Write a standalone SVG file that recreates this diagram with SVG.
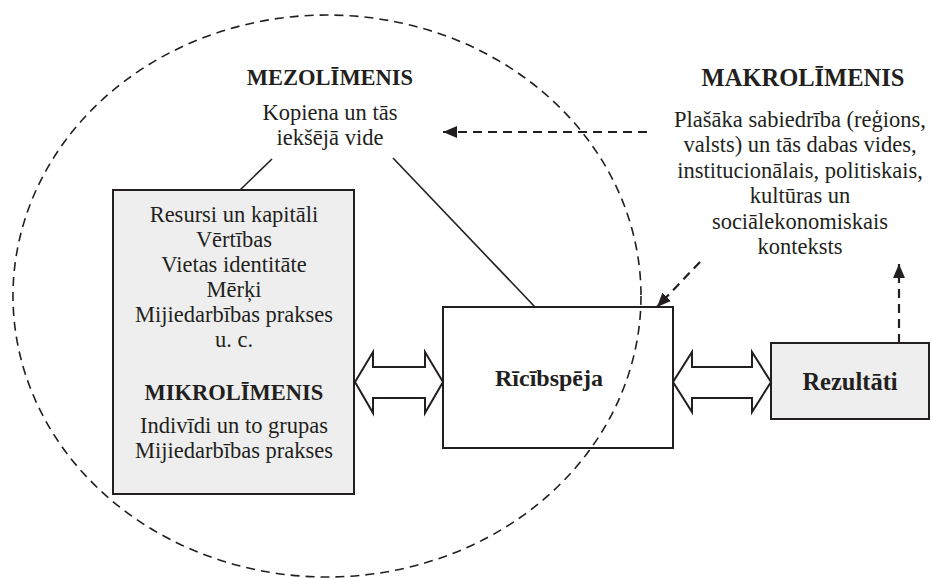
<svg xmlns="http://www.w3.org/2000/svg" width="932" height="579" viewBox="0 0 932 579">
<style>
text{font-family:"Liberation Serif","Times New Roman",serif;fill:#231f20;text-anchor:middle}
.b{font-weight:bold}
.t{font-size:22.5px}
.h{font-size:22.5px;font-weight:bold}
.box{stroke:#231f20;stroke-width:2}
.dbl{fill:#fff;stroke:#231f20;stroke-width:2;stroke-linejoin:miter}
.dash{fill:none;stroke:#231f20;stroke-width:2.2;stroke-dasharray:9 6}
.line{stroke:#231f20;stroke-width:1.6;fill:none}
</style>
<defs>
<marker id="ah" viewBox="0 0 14 12" refX="14" refY="6" markerWidth="14" markerHeight="12" markerUnits="userSpaceOnUse" orient="auto">
<path d="M0,0 L14,6 L0,12 z" fill="#231f20"/>
</marker>
</defs>
<g id="mikro">
<rect class="box" x="113" y="190" width="241" height="304" fill="#eeeeee" stroke-width="2.5"/>
<text class="t" x="234" y="222">Resursi un kapitāli</text>
<text class="t" x="234" y="247">Vērtības</text>
<text class="t" x="234" y="272">Vietas identitāte</text>
<text class="t" x="234" y="297">Mērķi</text>
<text class="t" x="234" y="322">Mijiedarbības prakses</text>
<text class="t" x="234" y="347">u. c.</text>
<text class="h" x="234" y="400">MIKROLĪMENIS</text>
<text class="t" x="234" y="433">Indivīdi un to grupas</text>
<text class="t" x="234" y="458">Mijiedarbības prakses</text>
</g>
<g id="ricibspeja">
<rect class="box" x="443" y="307" width="230" height="141" fill="#fff"/>
<text class="b" style="font-size:24px" x="549" y="386">Rīcībspēja</text>
</g>
<g id="rezultati">
<rect class="box" x="771" y="343" width="158" height="76" fill="#eeeeee"/>
<text class="b" style="font-size:24.5px" x="850" y="390">Rezultāti</text>
</g>
<g id="mezo">
<ellipse cx="327" cy="296" rx="314" ry="281" fill="none" stroke="#231f20" stroke-width="1.6" stroke-dasharray="9 6"/>
<text class="h" x="330" y="85">MEZOLĪMENIS</text>
<text class="t" x="330" y="120">Kopiena un tās</text>
<text class="t" x="330" y="145">iekšējā vide</text>
</g>
<g id="makro">
<text class="b" style="font-size:24.5px" x="803" y="86">MAKROLĪMENIS</text>
<text class="t" x="800" y="127">Plašāka sabiedrība (reģions,</text>
<text class="t" x="800" y="152">valsts) un tās dabas vides,</text>
<text class="t" x="800" y="178">institucionālais, politiskais,</text>
<text class="t" x="800" y="203">kultūras un</text>
<text class="t" x="800" y="229">sociālekonomiskais</text>
<text class="t" x="800" y="254">konteksts</text>
</g>
<g id="connectors">
<line class="line" x1="272" y1="159" x2="240" y2="190"/>
<line class="line" x1="393" y1="158" x2="535" y2="307"/>
<path class="dbl" d="M355,382 L373,352 L373,367 L425,367 L425,352 L443,382 L425,413 L425,398 L373,398 L373,413 Z"/>
<path class="dbl" d="M673,382 L692,352 L692,367 L752,367 L752,352 L771,382 L752,412 L752,398 L692,398 L692,412 Z"/>
<line class="dash" x1="647" y1="132" x2="443" y2="132" marker-end="url(#ah)"/>
<line class="dash" x1="700" y1="262" x2="657" y2="307" marker-end="url(#ah)"/>
<line class="dash" x1="899" y1="343" x2="899" y2="264" marker-end="url(#ah)"/>
</g>
</svg>
